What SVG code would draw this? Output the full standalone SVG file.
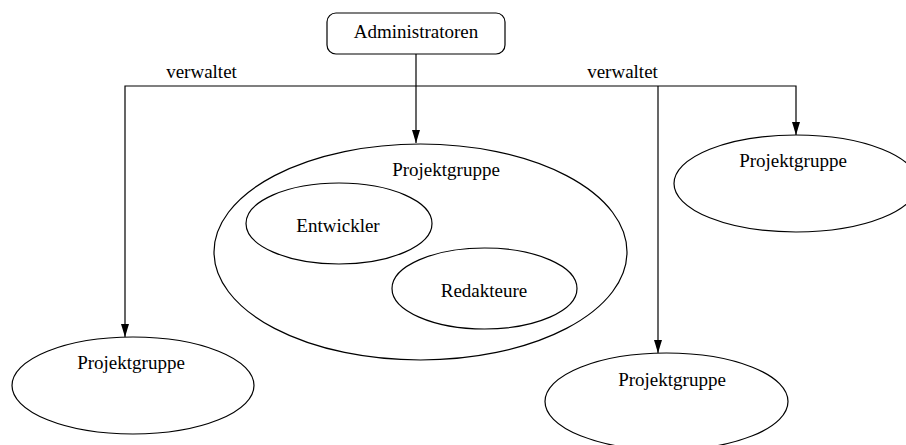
<svg xmlns="http://www.w3.org/2000/svg" width="906" height="445" viewBox="0 0 906 445">
  <style>
    .node { fill: #fff; stroke: #000; stroke-width: 1.2; }
    .lbl { font-family: "Liberation Serif", "Times New Roman", serif; font-size: 19px; fill: #000; text-anchor: middle; }
    .edge { fill: none; stroke: #000; stroke-width: 1.2; }
  </style>
  <defs>
    <marker id="arrow" markerUnits="userSpaceOnUse" markerWidth="13" markerHeight="8" refX="13" refY="4" orient="auto">
      <path d="M0,0 L13,4 L0,8 z" fill="#000"/>
    </marker>
  </defs>
  <rect width="906" height="445" fill="#fff"/>

  <g id="node-pg-center">
    <ellipse class="node" cx="420.5" cy="252" rx="206.5" ry="108"/>
    <text class="lbl" x="446" y="176">Projektgruppe</text>
  </g>
  <g id="node-entwickler">
    <ellipse class="node" cx="339" cy="223.5" rx="93" ry="40.5"/>
    <text class="lbl" x="338" y="232">Entwickler</text>
  </g>
  <g id="node-redakteure">
    <ellipse class="node" cx="484.5" cy="288.5" rx="92.5" ry="40.5"/>
    <text class="lbl" x="484" y="297">Redakteure</text>
  </g>
  <g id="node-admin">
    <rect class="node" x="327" y="13" width="178" height="41" rx="9"/>
    <text class="lbl" x="416" y="38">Administratoren</text>
  </g>
  <g id="node-pg-left">
    <ellipse class="node" cx="133" cy="385.5" rx="121" ry="48.5"/>
    <text class="lbl" x="131" y="369">Projektgruppe</text>
  </g>
  <g id="node-pg-bottomright">
    <ellipse class="node" cx="666.5" cy="401.5" rx="121.5" ry="48.5"/>
    <text class="lbl" x="672" y="386">Projektgruppe</text>
  </g>
  <g id="node-pg-topright">
    <ellipse class="node" cx="796" cy="183.5" rx="122" ry="48.5"/>
    <text class="lbl" x="793" y="167">Projektgruppe</text>
  </g>

  <g id="connectors">
    <path class="edge" d="M416,54 V143" marker-end="url(#arrow)"/>
    <path class="edge" d="M416,86 H125 V337" marker-end="url(#arrow)"/>
    <path class="edge" d="M416,86 H796 V135" marker-end="url(#arrow)"/>
    <path class="edge" d="M658,86 V353" marker-end="url(#arrow)"/>
    <text class="lbl" x="201.5" y="78">verwaltet</text>
    <text class="lbl" x="622.5" y="78">verwaltet</text>
  </g>
</svg>
